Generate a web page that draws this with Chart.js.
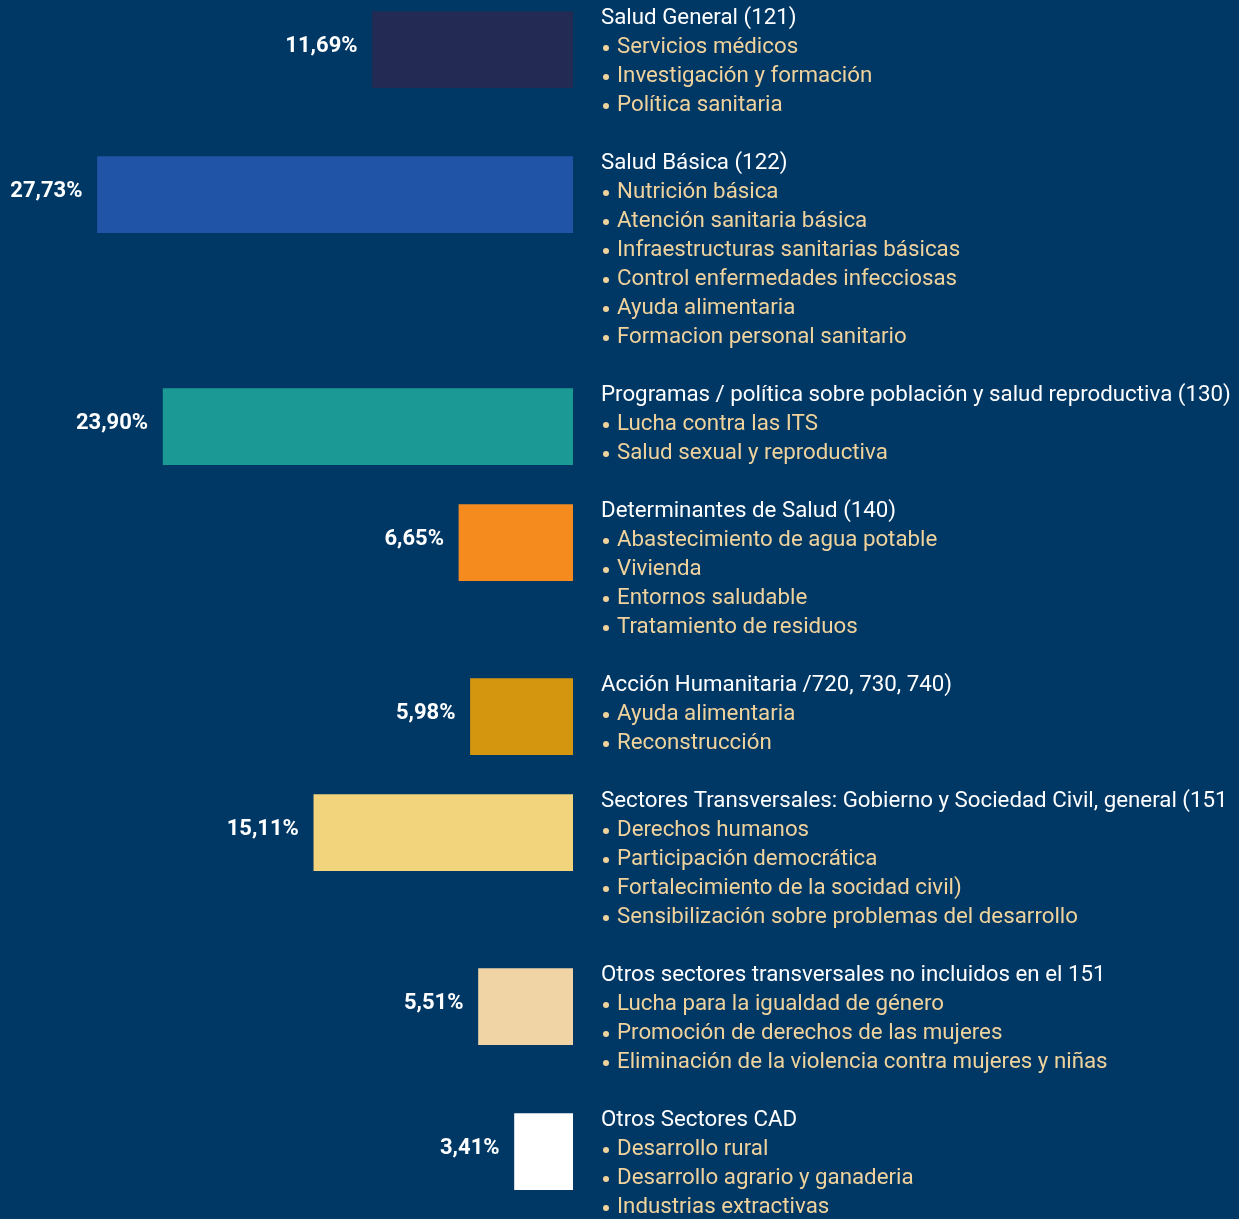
<!DOCTYPE html>
<html>
<head>
<meta charset="utf-8">
<script src="https://cdn.jsdelivr.net/npm/chart.js@4.4.1/dist/chart.umd.min.js"></script>
<style>
  html, body { margin: 0; padding: 0; background: #003865; }
  #wrap { position: relative; width: 1239px; height: 1219px; overflow: hidden; }
</style>
</head>
<body>
<div id="wrap"><canvas id="c" width="1239" height="1219"></canvas></div>
<script>
// ---- data ----
const categories = [
  "Salud General (121)",
  "Salud Básica (122)",
  "Programas / política sobre población y salud reproductiva (130)",
  "Determinantes de Salud (140)",
  "Acción Humanitaria /720, 730, 740)",
  "Sectores Transversales: Gobierno y Sociedad Civil, general (151",
  "Otros sectores transversales no incluidos en el 151",
  "Otros Sectores CAD"
];
const values = [11.69, 27.73, 23.90, 6.65, 5.98, 15.11, 5.51, 3.41];
const subItems = [
  ["Servicios médicos", "Investigación y formación", "Política sanitaria"],
  ["Nutrición básica", "Atención sanitaria básica", "Infraestructuras sanitarias básicas", "Control enfermedades infecciosas", "Ayuda alimentaria", "Formacion personal sanitario"],
  ["Lucha contra las ITS", "Salud sexual y reproductiva"],
  ["Abastecimiento de agua potable", "Vivienda", "Entornos saludable", "Tratamiento de residuos"],
  ["Ayuda alimentaria", "Reconstrucción"],
  ["Derechos humanos", "Participación democrática", "Fortalecimiento de la socidad civil)", "Sensibilización sobre problemas del desarrollo"],
  ["Lucha para la igualdad de género", "Promoción de derechos de las mujeres", "Eliminación de la violencia contra mujeres y niñas"],
  ["Desarrollo rural", "Desarrollo agrario y ganaderia", "Industrias extractivas"]
];
const barColors = ["#232a54", "#2054a6", "#1b9994", "#f58b1f", "#d4960f", "#f2d47c", "#f0d4a6", "#ffffff"];

// ---- layout helpers (line units) ----
const LINE_PX = 29;
const CANVAS_H = 1219;
const TOP_PX = 18;
const blockStart = [];
(function () {
  let s = 0;
  for (let i = 0; i < categories.length; i++) {
    blockStart.push(s);
    s += 1 + subItems[i].length + 1;
  }
})();
const BAR_OFFSET = 1.09;
const barData = values.map((v, i) => ({ x: v, y: blockStart[i] + BAR_OFFSET }));

const FONT = "Roboto, 'Open Sans', sans-serif";

const textPlugin = {
  id: 'textBlocks',
  afterDatasetsDraw(chart) {
    const ctx = chart.ctx;
    const ys = chart.scales.y;
    const xs = chart.scales.x;
    const meta = chart.getDatasetMeta(0);
    ctx.save();
    ctx.textBaseline = 'middle';
    // value labels
    ctx.font = "bold 22px " + FONT;
    ctx.fillStyle = '#ffffff';
    ctx.textAlign = 'right';
    meta.data.forEach((bar, i) => {
      const lbl = values[i].toFixed(2).replace('.', ',') + '%';
      ctx.fillText(lbl, bar.x - 15, bar.y - 3);
    });
    // text blocks
    ctx.textAlign = 'left';
    const tx = xs.right + 28;
    categories.forEach((cat, i) => {
      const line = blockStart[i];
      ctx.font = "22.3px " + FONT;
      ctx.fillStyle = '#ffffff';
      ctx.fillText(cat, tx, ys.getPixelForValue(line));
      ctx.fillStyle = '#f0d39c';
      subItems[i].forEach((it, k) => {
        const py = ys.getPixelForValue(line + 1 + k);
        ctx.beginPath();
        ctx.arc(tx + 5, py + 1, 3, 0, Math.PI * 2);
        ctx.fill();
        ctx.fillText(it, tx + 16, py);
      });
    });
    ctx.restore();
  }
};

new Chart(document.getElementById('c'), {
  type: 'bar',
  data: {
    datasets: [{
      data: barData,
      backgroundColor: barColors,
      borderWidth: 0,
      barThickness: 76
    }]
  },
  options: {
    indexAxis: 'y',
    responsive: false,
    animation: false,
    layout: { padding: { left: 0, right: 666, top: 0, bottom: 0 } },
    plugins: { legend: { display: false }, tooltip: { enabled: false } },
    scales: {
      x: { type: 'linear', reverse: true, min: 0, max: 573 / 17.15, display: false },
      y: { type: 'linear', reverse: true, offset: false, grace: 0, min: -TOP_PX / LINE_PX, max: (CANVAS_H - TOP_PX) / LINE_PX, display: false }
    }
  },
  plugins: [textPlugin]
});
</script>
</body>
</html>
